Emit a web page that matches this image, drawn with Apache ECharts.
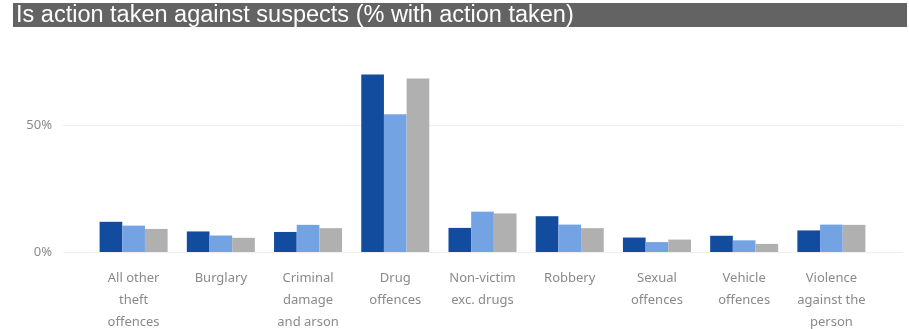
<!DOCTYPE html>
<html>
<head>
<meta charset="utf-8">
<script src="https://cdn.jsdelivr.net/npm/echarts@6/dist/echarts.min.js"></script>
<style>
html,body{margin:0;padding:0;background:#fff;}
#chart{width:909px;height:329px;}
</style>
</head>
<body>
<div id="chart"></div>
<script>
var titleText = 'Is action taken against suspects (% with action taken)';
var categories = ['All other\ntheft\noffences', 'Burglary', 'Criminal\ndamage\nand arson', 'Drug\noffences', 'Non-victim\nexc. drugs', 'Robbery', 'Sexual\noffences', 'Vehicle\noffences', 'Violence\nagainst the\nperson'];
var seriesA = [11.9, 8.1, 7.9, 70.0, 9.5, 14.1, 5.7, 6.4, 8.5];
var seriesB = [10.4, 6.5, 10.7, 54.3, 15.9, 10.8, 3.9, 4.6, 10.8];
var seriesC = [9.1, 5.6, 9.4, 68.4, 15.2, 9.4, 4.9, 3.2, 10.7];
var yTicks = [0, 50];

var chart = echarts.init(document.getElementById('chart'), null, {renderer: 'canvas'});
var font = '"Segoe UI", "Noto Sans", "Open Sans", sans-serif';
chart.setOption({
  animation: false,
  backgroundColor: '#ffffff',
  title: {
    text: titleText,
    left: 16,
    top: 3,
    padding: 0,
    textStyle: {
      color: '#ffffff',
      fontFamily: '"Liberation Sans", Arial, sans-serif',
      fontWeight: 'normal',
      fontSize: 23.5,
      lineHeight: 26
    }
  },
  graphic: [{
    type: 'rect',
    z: -1,
    shape: {x: 13, y: 3, width: 894, height: 24},
    style: {fill: '#636363'}
  }],
  grid: [
    {left: 63, right: 6, top: 125, height: 127, outerBoundsMode: 'none', containLabel: false},
    {left: 90, right: 34, top: 49, height: 203, outerBoundsMode: 'none', containLabel: false}
  ],
  xAxis: [
    {gridIndex: 0, type: 'category', data: categories, show: false},
    {
      gridIndex: 1, type: 'category', data: categories,
      axisLine: {show: false}, axisTick: {show: false},
      axisLabel: {
        interval: 0, margin: 15, color: '#8a8a8a',
        fontFamily: font, fontSize: 13, lineHeight: 22
      }
    }
  ],
  yAxis: [
    {
      gridIndex: 0, type: 'value', min: yTicks[0], max: yTicks[1], interval: 50,
      axisLine: {show: false}, axisTick: {show: false},
      axisLabel: {formatter: '{value}%', margin: 11, color: '#8a8a8a', fontFamily: font, fontSize: 13},
      splitLine: {lineStyle: {color: '#eeeeee', width: 1}}
    },
    {
      gridIndex: 1, type: 'value', min: 0, max: 80, show: false,
      splitLine: {show: false}
    }
  ],
  series: [
    {type: 'bar', xAxisIndex: 1, yAxisIndex: 1, data: seriesA, barGap: '0%', barCategoryGap: '22%', itemStyle: {color: '#124c9e'}},
    {type: 'bar', xAxisIndex: 1, yAxisIndex: 1, data: seriesB, barGap: '0%', barCategoryGap: '22%', itemStyle: {color: '#74a3e3'}},
    {type: 'bar', xAxisIndex: 1, yAxisIndex: 1, data: seriesC, barGap: '0%', barCategoryGap: '22%', itemStyle: {color: '#b0b0b0'}}
  ]
});
</script>
</body>
</html>
